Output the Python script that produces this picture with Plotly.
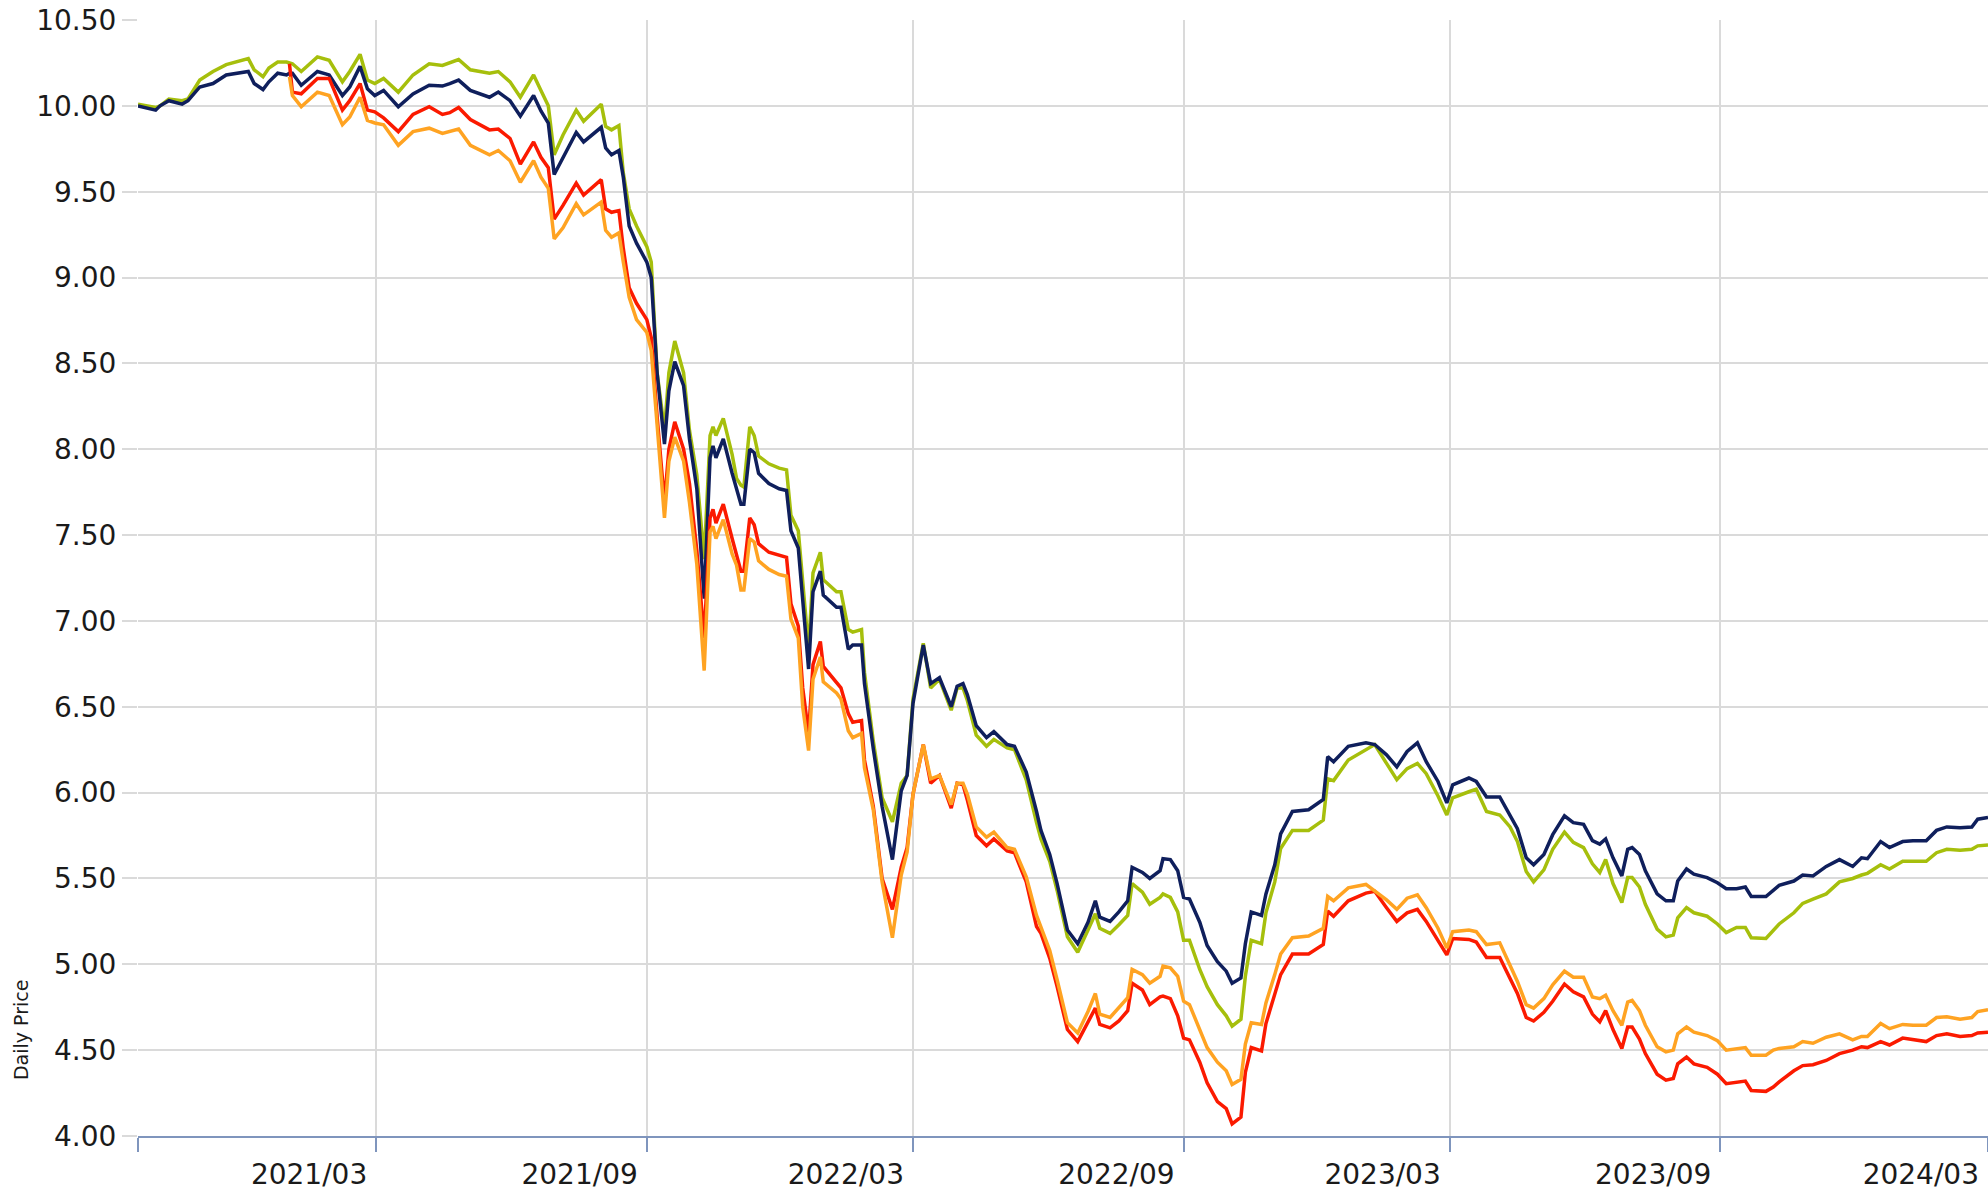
import plotly.graph_objects as go

dates = [
    "2020-09-20", "2020-10-02", "2020-10-05", "2020-10-11", "2020-10-20", "2020-10-24",
    "2020-11-01", "2020-11-10", "2020-11-19", "2020-12-04", "2020-12-08", "2020-12-14",
    "2020-12-18", "2020-12-24", "2020-12-30", "2021-01-01", "2021-01-03", "2021-01-09",
    "2021-01-20", "2021-01-28", "2021-02-06", "2021-02-11", "2021-02-18", "2021-02-23",
    "2021-02-28", "2021-03-06", "2021-03-16", "2021-03-26", "2021-04-06", "2021-04-15",
    "2021-04-20", "2021-04-26", "2021-05-04", "2021-05-17", "2021-05-23", "2021-05-31",
    "2021-06-07", "2021-06-16", "2021-06-21", "2021-06-26", "2021-06-30", "2021-07-06",
    "2021-07-15", "2021-07-20", "2021-08-01", "2021-08-04", "2021-08-08", "2021-08-13",
    "2021-08-16", "2021-08-20", "2021-08-25", "2021-09-01", "2021-09-04", "2021-09-08",
    "2021-09-13", "2021-09-16", "2021-09-20", "2021-09-26", "2021-09-30", "2021-10-05",
    "2021-10-10", "2021-10-14", "2021-10-16", "2021-10-18", "2021-10-23", "2021-10-29",
    "2021-11-01", "2021-11-04", "2021-11-06", "2021-11-10", "2021-11-13", "2021-11-16",
    "2021-11-23", "2021-11-30", "2021-12-05", "2021-12-08", "2021-12-13", "2021-12-16",
    "2021-12-20", "2021-12-23", "2021-12-28", "2021-12-30", "2022-01-08", "2022-01-11",
    "2022-01-16", "2022-01-19", "2022-01-25", "2022-01-27", "2022-02-02", "2022-02-08",
    "2022-02-15", "2022-02-21", "2022-02-25", "2022-03-01", "2022-03-08", "2022-03-13",
    "2022-03-19", "2022-03-27", "2022-03-31", "2022-04-04", "2022-04-07", "2022-04-13",
    "2022-04-20", "2022-04-25", "2022-05-04", "2022-05-09", "2022-05-17", "2022-05-24",
    "2022-05-27", "2022-06-02", "2022-06-07", "2022-06-14", "2022-06-21", "2022-06-28",
    "2022-07-03", "2022-07-06", "2022-07-13", "2022-07-19", "2022-07-25", "2022-07-28",
    "2022-08-04", "2022-08-09", "2022-08-16", "2022-08-18", "2022-08-23", "2022-08-28",
    "2022-09-01", "2022-09-05", "2022-09-12", "2022-09-17", "2022-09-24", "2022-09-30",
    "2022-10-04", "2022-10-10", "2022-10-13", "2022-10-17", "2022-10-24", "2022-10-27",
    "2022-11-02", "2022-11-06", "2022-11-14", "2022-11-25", "2022-12-05", "2022-12-08",
    "2022-12-12", "2022-12-22", "2023-01-03", "2023-01-09", "2023-01-17", "2023-01-24",
    "2023-01-31", "2023-02-07", "2023-02-13", "2023-02-21", "2023-02-27", "2023-03-03",
    "2023-03-14", "2023-03-19", "2023-03-26", "2023-04-04", "2023-04-11", "2023-04-16",
    "2023-04-22", "2023-04-27", "2023-05-04", "2023-05-10", "2023-05-18", "2023-05-24",
    "2023-05-31", "2023-06-06", "2023-06-11", "2023-06-15", "2023-06-20", "2023-06-26",
    "2023-06-30", "2023-07-03", "2023-07-08", "2023-07-12", "2023-07-20", "2023-07-26",
    "2023-07-31", "2023-08-03", "2023-08-09", "2023-08-14", "2023-08-23", "2023-08-30",
    "2023-09-05", "2023-09-12", "2023-09-18", "2023-09-22", "2023-10-02", "2023-10-07",
    "2023-10-11", "2023-10-21", "2023-10-27", "2023-11-03", "2023-11-12", "2023-11-21",
    "2023-11-30", "2023-12-06", "2023-12-10", "2023-12-19", "2023-12-25", "2024-01-03",
    "2024-01-10", "2024-01-19", "2024-01-26", "2024-02-02", "2024-02-11", "2024-02-19",
    "2024-02-23", "2024-03-01",
]

navy = [
    10.00, 9.975, 10.00, 10.03, 10.01, 10.03,
    10.11, 10.13, 10.18, 10.20, 10.13, 10.095,
    10.14, 10.19, 10.18, 10.19, 10.19, 10.12,
    10.20, 10.18, 10.06, 10.11, 10.23, 10.10,
    10.06, 10.09, 9.995, 10.07, 10.12, 10.115,
    10.13, 10.15, 10.09, 10.05, 10.08, 10.03,
    9.94, 10.06, 9.97, 9.90, 9.60, 9.70,
    9.845, 9.79, 9.875, 9.755, 9.715, 9.74,
    9.585, 9.30, 9.20, 9.09, 9.00, 8.445,
    8.03, 8.34, 8.51, 8.37, 8.06, 7.77,
    7.13, 7.95, 8.02, 7.95, 8.06, 7.86,
    7.76, 7.68, 7.68, 8.00, 7.98, 7.86,
    7.80, 7.77, 7.76, 7.525, 7.425, 7.10,
    6.72, 7.17, 7.29, 7.15, 7.08, 7.08,
    6.835, 6.86, 6.86, 6.635, 6.255, 5.92,
    5.61, 6.01, 6.10, 6.52, 6.86, 6.635,
    6.67, 6.50, 6.62, 6.635, 6.57, 6.39,
    6.32, 6.355, 6.28, 6.27, 6.12, 5.89,
    5.78, 5.64, 5.47, 5.20, 5.12, 5.245,
    5.37, 5.275, 5.25, 5.305, 5.37, 5.565,
    5.535, 5.50, 5.545, 5.615, 5.61, 5.545,
    5.39, 5.38, 5.245, 5.11, 5.015, 4.96,
    4.89, 4.92, 5.12, 5.305, 5.285, 5.41,
    5.58, 5.76, 5.89, 5.90, 5.96, 6.21,
    6.18, 6.27, 6.29, 6.28, 6.22, 6.15,
    6.24, 6.29, 6.18, 6.065, 5.94, 6.045,
    6.085, 6.065, 5.975, 5.975, 5.87, 5.79,
    5.62, 5.58, 5.64, 5.755, 5.865, 5.825,
    5.815, 5.72, 5.70, 5.73, 5.62, 5.515,
    5.67, 5.68, 5.64, 5.545, 5.41, 5.37,
    5.37, 5.485, 5.555, 5.525, 5.505, 5.475,
    5.44, 5.44, 5.45, 5.395, 5.395, 5.43,
    5.46, 5.485, 5.52, 5.515, 5.57, 5.61,
    5.57, 5.62, 5.615, 5.715, 5.68, 5.715,
    5.72, 5.72, 5.78, 5.80, 5.795, 5.80,
    5.845, 5.855,
]

green = [
    10.01, 9.99, 10.00, 10.04, 10.03, 10.04,
    10.15, 10.20, 10.24, 10.275, 10.21, 10.17,
    10.22, 10.255, 10.255, 10.25, 10.245, 10.20,
    10.285, 10.265, 10.14, 10.20, 10.30, 10.15,
    10.13, 10.16, 10.08, 10.18, 10.245, 10.235,
    10.25, 10.27, 10.21, 10.19, 10.20, 10.14,
    10.05, 10.18, 10.09, 10.00, 9.715, 9.83,
    9.975, 9.91, 10.01, 9.88, 9.86, 9.885,
    9.61, 9.40, 9.30, 9.18, 9.09, 8.445,
    8.11, 8.445, 8.63, 8.445, 8.11, 7.85,
    7.36, 8.08, 8.13, 8.08, 8.18, 7.97,
    7.83, 7.79, 7.78, 8.13, 8.08, 7.96,
    7.915, 7.89, 7.88, 7.615, 7.525, 7.24,
    6.835, 7.28, 7.40, 7.24, 7.17, 7.17,
    6.95, 6.935, 6.95, 6.70, 6.30, 5.97,
    5.83, 6.055, 6.10, 6.545, 6.87, 6.61,
    6.66, 6.48, 6.61, 6.61, 6.535, 6.335,
    6.27, 6.31, 6.26, 6.25, 6.075, 5.825,
    5.73, 5.60, 5.43, 5.16, 5.07, 5.20,
    5.295, 5.21, 5.18, 5.23, 5.285, 5.47,
    5.42, 5.35, 5.39, 5.41, 5.39, 5.305,
    5.14, 5.14, 4.97, 4.87, 4.765, 4.70,
    4.64, 4.68, 4.93, 5.14, 5.12, 5.30,
    5.48, 5.675, 5.78, 5.78, 5.84, 6.08,
    6.07, 6.19, 6.25, 6.28, 6.17, 6.075,
    6.14, 6.17, 6.11, 5.98, 5.87, 5.97,
    6.005, 6.02, 5.89, 5.87, 5.80, 5.715,
    5.54, 5.48, 5.55, 5.67, 5.77, 5.71,
    5.68, 5.585, 5.535, 5.61, 5.47, 5.36,
    5.505, 5.505, 5.45, 5.35, 5.205, 5.16,
    5.17, 5.27, 5.33, 5.30, 5.28, 5.235,
    5.185, 5.215, 5.215, 5.155, 5.15, 5.195,
    5.235, 5.30, 5.355, 5.38, 5.41, 5.48,
    5.50, 5.52, 5.53, 5.58, 5.555, 5.60,
    5.60, 5.60, 5.65, 5.67, 5.665, 5.67,
    5.69, 5.695,
]

red = [
    None, None, None, None, None, None,
    None, None, None, None, None, None,
    None, None, None, 10.245, 10.08, 10.07,
    10.16, 10.16, 9.975, 10.03, 10.13, 9.975,
    9.965, 9.93, 9.85, 9.95, 9.995, 9.95,
    9.96, 9.99, 9.92, 9.86, 9.865, 9.81,
    9.66, 9.79, 9.70, 9.64, 9.34, 9.42,
    9.55, 9.48, 9.57, 9.40, 9.38, 9.39,
    9.17, 8.94, 8.85, 8.755, 8.65, 8.19,
    7.69, 8.00, 8.16, 8.00, 7.80, 7.41,
    6.90, 7.60, 7.65, 7.57, 7.68, 7.48,
    7.38, 7.29, 7.29, 7.60, 7.56, 7.45,
    7.40, 7.38, 7.37, 7.10, 6.97, 6.61,
    6.345, 6.745, 6.88, 6.735, 6.635, 6.61,
    6.46, 6.41, 6.42, 6.19, 5.92, 5.50,
    5.32, 5.565, 5.68, 5.99, 6.28, 6.055,
    6.10, 5.91, 6.055, 6.045, 5.955, 5.75,
    5.69, 5.73, 5.66, 5.65, 5.48, 5.22,
    5.18, 5.035, 4.87, 4.62, 4.55, 4.66,
    4.745, 4.65, 4.63, 4.67, 4.73, 4.89,
    4.85, 4.765, 4.81, 4.815, 4.80, 4.70,
    4.57, 4.56, 4.43, 4.31, 4.20, 4.16,
    4.07, 4.11, 4.37, 4.515, 4.495, 4.655,
    4.82, 4.94, 5.06, 5.06, 5.115, 5.31,
    5.28, 5.37, 5.415, 5.425, 5.33, 5.25,
    5.30, 5.32, 5.25, 5.135, 5.055, 5.15,
    5.145, 5.13, 5.04, 5.04, 4.92, 4.83,
    4.69, 4.67, 4.72, 4.785, 4.885, 4.84,
    4.81, 4.71, 4.665, 4.73, 4.62, 4.51,
    4.635, 4.635, 4.565, 4.48, 4.36, 4.325,
    4.335, 4.42, 4.46, 4.42, 4.40, 4.36,
    4.305, 4.315, 4.32, 4.265, 4.26, 4.285,
    4.315, 4.38, 4.41, 4.415, 4.44, 4.48,
    4.50, 4.52, 4.515, 4.55, 4.53, 4.57,
    4.56, 4.55, 4.585, 4.595, 4.58, 4.585,
    4.60, 4.605,
]

orange = [
    None, None, None, None, None, None,
    None, None, None, None, None, None,
    None, None, None, 10.17, 10.06, 9.995,
    10.08, 10.06, 9.89, 9.935, 10.05, 9.915,
    9.90, 9.89, 9.77, 9.85, 9.87, 9.84,
    9.85, 9.865, 9.77, 9.715, 9.74, 9.68,
    9.555, 9.68, 9.585, 9.52, 9.225, 9.29,
    9.43, 9.365, 9.44, 9.275, 9.235, 9.26,
    9.09, 8.885, 8.755, 8.68, 8.575, 8.13,
    7.60, 7.93, 8.07, 7.93, 7.69, 7.33,
    6.71, 7.52, 7.55, 7.48, 7.59, 7.39,
    7.325, 7.18, 7.18, 7.48, 7.46, 7.35,
    7.30, 7.27, 7.26, 7.01, 6.90, 6.50,
    6.245, 6.66, 6.79, 6.645, 6.58, 6.545,
    6.36, 6.32, 6.345, 6.145, 5.90, 5.48,
    5.155, 5.52, 5.655, 5.99, 6.28, 6.08,
    6.10, 5.93, 6.055, 6.055, 5.99, 5.80,
    5.74, 5.77, 5.68, 5.67, 5.51, 5.285,
    5.22, 5.08, 4.91, 4.66, 4.60, 4.725,
    4.83, 4.71, 4.69, 4.745, 4.805, 4.97,
    4.94, 4.89, 4.93, 4.99, 4.98, 4.93,
    4.785, 4.765, 4.62, 4.515, 4.43, 4.38,
    4.30, 4.33, 4.535, 4.66, 4.65, 4.775,
    4.94, 5.06, 5.155, 5.165, 5.21, 5.395,
    5.37, 5.445, 5.465, 5.425, 5.375, 5.32,
    5.385, 5.405, 5.33, 5.21, 5.095, 5.19,
    5.20, 5.19, 5.115, 5.125, 5.00, 4.90,
    4.765, 4.745, 4.80, 4.88, 4.96, 4.925,
    4.925, 4.81, 4.80, 4.82, 4.73, 4.645,
    4.78, 4.79, 4.73, 4.645, 4.52, 4.49,
    4.50, 4.595, 4.635, 4.605, 4.585, 4.555,
    4.50, 4.51, 4.515, 4.47, 4.47, 4.50,
    4.51, 4.52, 4.55, 4.54, 4.575, 4.595,
    4.56, 4.58, 4.58, 4.655, 4.625, 4.65,
    4.645, 4.645, 4.69, 4.695, 4.68, 4.69,
    4.725, 4.735,
]

tick_dates = ["2020-09-20", "2021-03-01", "2021-09-01", "2022-03-01", "2022-09-01",
              "2023-03-01", "2023-09-01", "2024-03-01"]
tick_labels = ["", "2021/03", "2021/09", "2022/03", "2022/09", "2023/03", "2023/09", "2024/03"]

y_ticks = [4.0, 4.5, 5.0, 5.5, 6.0, 6.5, 7.0, 7.5, 8.0, 8.5, 9.0, 9.5, 10.0, 10.5]

series = [
    ("Series B", green, "#a6bf0c"),
    ("Series A", navy, "#0f1f5c"),
    ("Series C", red, "#fb1a00"),
    ("Series D", orange, "#ffa322"),
]

fig = go.Figure()
for name, vals, col in series:
    fig.add_trace(go.Scatter(x=dates, y=vals, mode="lines", name=name,
                             line=dict(color=col, width=3.5), connectgaps=False))

font_family = "DejaVu Sans, Verdana, sans-serif"
fig.update_layout(
    width=1988, height=1192,
    margin=dict(l=138, r=0, t=20, b=56, autoexpand=False),
    plot_bgcolor="white", paper_bgcolor="white",
    showlegend=False,
    font=dict(family=font_family, color="#1a1a1a"),
)
fig.update_xaxes(
    type="date", range=["2020-09-20", "2024-03-01"],
    tickmode="array", tickvals=tick_dates, ticktext=tick_labels,
    ticks="outside", ticklen=14, tickwidth=2, tickcolor="#7f95bd",
    ticklabelposition="outside left", ticklabelshift=-7, ticklabelstandoff=12,
    showline=True, linecolor="#7f95bd", linewidth=2,
    showgrid=True, gridcolor="#dadada", gridwidth=2,
    tickfont=dict(size=28, family=font_family, color="#1a1a1a"),
    zeroline=False, automargin=False,
)
fig.update_yaxes(
    range=[4.0, 10.5], tickmode="array", tickvals=y_ticks,
    tickformat=".2f",
    ticks="outside", ticklen=15, tickwidth=2, tickcolor="#dadada",
    showline=False,
    showgrid=True, gridcolor="#dadada", gridwidth=2,
    tickfont=dict(size=28, family=font_family, color="#1a1a1a"),
    zeroline=False, automargin=False,
)
fig.add_annotation(
    text="Daily Price", textangle=-90, showarrow=False,
    xref="paper", yref="paper", x=-0.0632, y=0.095,
    xanchor="center", yanchor="middle",
    font=dict(size=19, family=font_family, color="#1a1a1a"),
)

fig.write_html("out.html",
               config={"displayModeBar": False},
               post_script="document.body.style.margin='0';document.body.style.padding='0';")
